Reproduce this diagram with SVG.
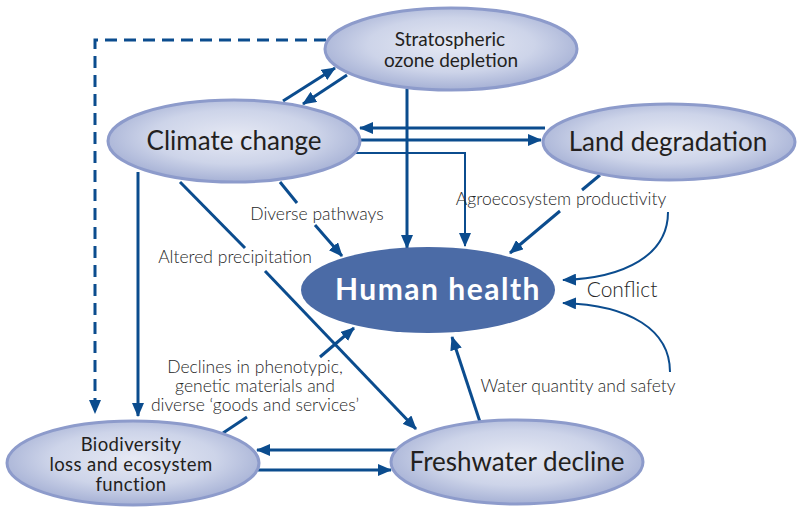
<svg xmlns="http://www.w3.org/2000/svg" width="800" height="515" viewBox="0 0 800 515">
<style>
.node{fill:url(#lg);stroke:#8d9bcb;stroke-width:3}
.nt{font-family:Lato,"Open Sans","Liberation Sans",sans-serif;fill:#231f20;text-anchor:middle}
.lbl{font-family:Lato,"Open Sans","Liberation Sans",sans-serif;font-weight:300;fill:#262626;text-anchor:middle;font-size:17.5px}
.c{fill:none;stroke:#0b4c8e;stroke-width:3}
.thin{stroke-width:2}
.a{marker-end:url(#ah)}
</style>
<defs>
<radialGradient id="lg" cx="50%" cy="45%" r="55%">
<stop offset="0" stop-color="#e6e9f4"/>
<stop offset="0.6" stop-color="#cdd4e9"/>
<stop offset="1" stop-color="#a6b1d5"/>
</radialGradient>
<marker id="ah" markerUnits="userSpaceOnUse" markerWidth="14" markerHeight="12" viewBox="0 0 14 12" refX="13" refY="6" orient="auto">
<path d="M0,0 L14,6 L0,12 Z" fill="#0b4c8e"/>
</marker>
</defs>
<g id="connectors">
<path class="c a" d="M326,40 H95 V413" stroke-dasharray="12,7"/>
<path class="c a" d="M283,101 L335,68"/>
<path class="c a" d="M347,75 L303,104"/>
<path class="c a" d="M407,89 V248"/>
<path class="c a" d="M545,128 H360"/>
<path class="c a" d="M357,140 H541"/>
<path class="c thin a" d="M356,153 H465 V246"/>
<path class="c" d="M600,175 L582,190"/>
<path class="c a" d="M560,211 L510,253"/>
<path class="c thin a" d="M668,212 C668,255 625,278 563,280"/>
<path class="c thin a" d="M670,372 C670,330 630,305 563,303"/>
<path class="c a" d="M480,422 L452,337"/>
<path class="c a" d="M397,450 H257"/>
<path class="c a" d="M258,470 H391"/>
<path class="c" d="M223,433 L247,417"/>
<path class="c a" d="M320,357 L354,328"/>
<path class="c a" d="M138,172 V416"/>
<path class="c" d="M180,182 L245,248"/>
<path class="c a" d="M265,271 L416,429"/>
<path class="c" d="M280,182 L297,203"/>
<path class="c a" d="M315,225 L342,256"/>
</g>
<g id="ozone">
<ellipse class="node" cx="451" cy="49" rx="126" ry="41"/>
<text class="nt" x="450" y="46" font-size="19">Stratospheric</text>
<text class="nt" x="451" y="67" font-size="19">ozone depletion</text>
</g>
<g id="climate">
<ellipse class="node" cx="234" cy="141" rx="126" ry="41"/>
<text class="nt" x="234" y="150" font-size="26">Climate change</text>
</g>
<g id="land">
<ellipse class="node" cx="669" cy="142" rx="126" ry="38"/>
<text class="nt" x="668" y="151" font-size="26">Land degradation</text>
</g>
<g id="human">
<ellipse cx="428" cy="290" rx="127" ry="43" fill="#4b6ba6"/>
<text class="nt" x="438" y="300" font-size="30" font-weight="bold" letter-spacing="1.5" style="fill:#fff">Human health</text>
</g>
<g id="biodiversity">
<ellipse class="node" cx="133" cy="463" rx="126" ry="42"/>
<text class="nt" x="131" y="451" font-size="18.5" letter-spacing="0.4">Biodiversity</text>
<text class="nt" x="131" y="471" font-size="18.5" letter-spacing="0.4">loss and ecosystem</text>
<text class="nt" x="131" y="491" font-size="18.5" letter-spacing="0.4">function</text>
</g>
<g id="freshwater">
<ellipse class="node" cx="517" cy="462" rx="126" ry="42"/>
<text class="nt" x="517" y="471" font-size="26">Freshwater decline</text>
</g>
<g id="labels">
<text class="lbl" x="561" y="205">Agroecosystem productivity</text>
<text class="lbl" x="622" y="297" style="font-size:21px">Conflict</text>
<text class="lbl" x="578" y="392">Water quantity and safety</text>
<text class="lbl" x="317" y="220">Diverse pathways</text>
<text class="lbl" x="235" y="263">Altered precipitation</text>
<text class="lbl" x="255" y="373">Declines in phenotypic,</text>
<text class="lbl" x="255" y="392">genetic materials and</text>
<text class="lbl" x="255" y="411">diverse ‘goods and services’</text>
</g>
</svg>
